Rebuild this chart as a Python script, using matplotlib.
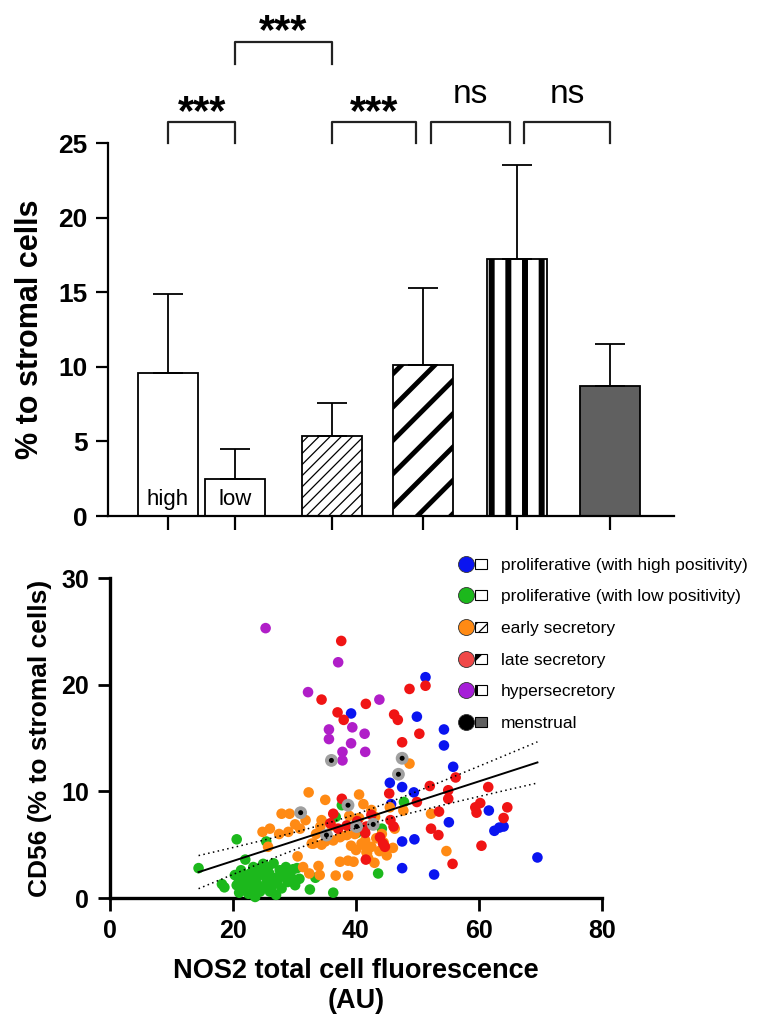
import numpy as np
import matplotlib
matplotlib.use("Agg")
import matplotlib.pyplot as plt
from matplotlib.lines import Line2D
from matplotlib.patches import Rectangle
from matplotlib.legend_handler import HandlerBase

plt.rcParams['font.family'] = ['Liberation Sans', 'DejaVu Sans']

# ---------------- bar panel data ----------------
groups = ['prolif. high', 'prolif. low', 'early secretory', 'late secretory',
          'hypersecretory', 'menstrual']
bar_pos = [0, 0.72, 1.75, 2.73, 3.73, 4.73]
bar_mean = [9.6, 2.45, 5.35, 10.1, 17.2, 8.7]
bar_top = [14.85, 4.5, 7.6, 15.25, 23.55, 11.55]   # mean + SD
bar_face = ['white', 'white', 'white', 'white', 'white', '#606060']
bar_hatch = [None, None, '///', '/', '|', None]
bar_hatch_lw = [1.0, 1.0, 0.9, 3.5, 4.3, 1.0]
inner_text = ['high', 'low', '', '', '', '']

# (left bar, right bar, left shift, right shift, level, label)
brackets = [(0, 1, 0.0, 0.0, 0, '***'),
            (1, 2, 0.0, 0.0, 1, '***'),
            (2, 3, 0.0, -0.08, 0, '***'),
            (3, 4, 0.08, -0.07, 0, 'ns'),
            (4, 5, 0.08, 0.0, 0, 'ns')]
br_top = [26.4, 31.8]
br_bottom = [25.0, 30.3]

# ---------------- scatter data (NOS2 vs CD56) ----------------
high_x = [51.3, 39.2, 49.9, 54.3, 54.3, 55.8, 45.5, 47.5, 49.4, 45.7, 55.1, 61.6,
          62.5, 63.3, 64.0, 49.5, 47.5, 47.5, 52.7, 69.5]
high_y = [20.7, 17.3, 17.0, 15.8, 14.3, 12.3, 10.8, 10.4, 9.9, 8.8, 7.1, 8.2,
          6.3, 6.6, 6.7, 5.5, 5.3, 2.8, 2.2, 3.8]

low_x = [14.4, 20.6, 25.4, 22.0, 18.2, 18.6, 37.7, 36.7, 40.1, 44.2, 43.6, 36.3,
         32.5, 33.4, 47.8, 30.4, 29.5, 30.1,
         20.3, 20.9, 22.0, 22.8, 23.9, 24.7, 25.7, 26.6, 27.6, 28.2, 21.7, 22.2,
         23.0, 23.3, 24.1, 24.4, 25.2, 25.5, 26.3, 26.8, 23.6, 20.6, 21.3, 24.0,
         27.2, 28.6, 25.9, 22.5, 26.0, 28.9, 21.0, 24.9, 27.9, 23.3, 29.8,
         30.8, 29.2, 21.8, 27.0]
low_y = [2.8, 5.5, 5.3, 3.6, 1.3, 1.0, 8.7, 7.6, 6.1, 6.5, 2.3, 0.5,
         0.8, 1.9, 9.0, 2.8, 1.9, 1.2,
         2.15, 1.85, 2.0, 2.3, 2.6, 2.3, 2.9, 3.25, 2.6, 2.0, 0.75, 1.4,
         1.5, 1.0, 1.2, 0.6, 1.05, 1.7, 1.05, 1.85, 0.1, 1.2, 2.6, 2.0,
         1.4, 2.9, 2.3, 0.4, 0.6, 1.5, 0.5, 3.2, 0.9, 2.9, 2.7,
         1.8, 2.4, 1.1, 0.3]

early_x = [32.3, 35.0, 40.5, 48.7, 41.2, 42.5, 27.9, 29.2, 26.0, 30.1, 30.9, 27.5,
           34.2, 33.1, 34.4, 36.3, 37.4, 38.5, 30.5, 31.4, 33.9, 32.4, 34.1, 36.7,
           38.7, 37.4, 38.7, 39.6, 46.3, 47.7, 52.2, 54.7, 25.7, 34.4, 43.1, 37.6,
           40.0, 41.0, 41.8, 42.5, 43.3, 43.8, 44.5, 45.0, 42.0, 43.0, 39.8, 41.5,
           44.2, 46.0, 40.5, 38.9, 36.0, 29.0, 31.8, 45.5, 33.5, 24.8, 39.2, 35.0,
           32.8, 40.9, 41.7]
early_y = [9.9, 9.2, 9.7, 12.6, 8.8, 8.25, 7.9, 7.9, 6.5, 6.9, 6.5, 6.0,
           6.7, 5.1, 5.0, 5.4, 5.7, 5.9, 3.9, 2.9, 3.0, 2.3, 2.15, 2.1,
           2.1, 3.4, 3.5, 3.4, 6.5, 8.2, 7.9, 4.4, 4.8, 7.3, 7.6, 5.8,
           4.5, 5.0, 4.2, 4.8, 5.6, 4.4, 5.2, 4.0, 3.7, 3.3, 6.0, 5.4,
           6.0, 4.7, 7.5, 7.7, 6.8, 6.2, 7.3, 8.5, 6.0, 6.2, 4.9, 5.3,
           5.1, 5.1, 4.3]

late_x = [37.6, 34.4, 41.6, 37.0, 38.0, 48.7, 51.3, 46.2, 46.8, 50.3, 47.5, 56.2,
          52.0, 55.0, 55.0, 61.5, 59.4, 59.6, 60.2, 64.6, 64.0, 53.5, 52.2, 53.4,
          60.4, 55.7, 45.4, 49.9, 46.1, 41.6, 37.7, 36.3, 35.8, 37.1, 38.5, 41.7,
          41.5, 43.9, 44.4, 42.5, 40.2, 45.6, 44.7]
late_y = [24.1, 18.6, 18.2, 17.4, 16.7, 19.6, 19.9, 17.2, 16.7, 15.4, 14.6, 11.3,
          10.5, 10.1, 9.3, 10.4, 8.5, 8.0, 8.9, 8.5, 7.5, 8.1, 6.5, 5.9,
          4.9, 3.2, 9.8, 9.0, 6.7, 3.6, 9.3, 7.9, 7.0, 6.5, 6.8, 6.7,
          6.1, 5.7, 5.1, 7.8, 7.2, 7.3, 4.8]

hyper_x = [25.3, 37.1, 32.2, 43.8, 35.6, 39.4, 41.4, 35.6, 39.2, 37.8, 41.5, 37.8]
hyper_y = [25.3, 22.1, 19.3, 18.6, 15.8, 16.0, 15.4, 14.9, 14.5, 13.7, 13.7, 12.9]

mens_x = [36.0, 47.5, 46.9, 31.0, 38.7, 35.2, 42.8, 40.1]
mens_y = [12.9, 13.1, 11.6, 8.0, 8.7, 5.9, 6.9, 6.7]

legend_labels = ['proliferative (with high positivity)',
                 'proliferative (with low positivity)',
                 'early secretory', 'late secretory', 'hypersecretory', 'menstrual']
dot_colors = ['#0a14f0', '#1cb81c', '#ff8a14', '#f01414', '#b01ec8', 'black']
legend_dot_colors = ['#0a14f0', '#1cb81c', '#ff8a14', '#f04848', '#a61ed8', 'black']


def set_hatch_lw(patch, lw):
    if hasattr(patch, 'set_hatch_linewidth'):
        patch.set_hatch_linewidth(lw)


class LegendKey(object):
    def __init__(self, dot, face, hatch, hatch_lw):
        self.dot = dot
        self.face = face
        self.hatch = hatch
        self.hatch_lw = hatch_lw


class DotBox(HandlerBase):
    # filled circle followed by a small copy of the bar fill
    def create_artists(self, legend, key, xdescent, ydescent, width, height,
                       fontsize, trans):
        cy = height / 2.0 - ydescent
        cx = -xdescent + 5.8
        with plt.rc_context({'hatch.linewidth': key.hatch_lw}):
            box = Rectangle((cx + 6.3, cy - 3.6), 9.0, 7.2, facecolor=key.face,
                            edgecolor='black', hatch=key.hatch, lw=0.8,
                            transform=trans)
        set_hatch_lw(box, key.hatch_lw)
        dot = Line2D([cx], [cy], marker='o', ms=11.5, color=key.dot,
                     mec='#333333', mew=0.6, ls='none', transform=trans)
        return [box, dot]


fig = plt.figure(figsize=(7.66, 10.30), dpi=100)
W, H = 766.0, 1030.0

# ================= top: bar chart =================
ax1 = fig.add_axes([108 / W, 1 - 516 / H, (674 - 108) / W, (516 - 143) / H])
for i in range(len(groups)):
    with plt.rc_context({'hatch.linewidth': bar_hatch_lw[i]}):
        b = ax1.bar(bar_pos[i], bar_mean[i], width=0.64, color=bar_face[i],
                    edgecolor='black', linewidth=1.3, hatch=bar_hatch[i], zorder=2)
    set_hatch_lw(b[0], bar_hatch_lw[i])
    if inner_text[i]:
        ax1.text(bar_pos[i], 0.75, inner_text[i], ha='center', va='baseline',
                 fontsize=16)

err_up = np.array(bar_top) - np.array(bar_mean)
ax1.errorbar(bar_pos, bar_mean, yerr=[np.zeros(len(bar_mean)), err_up], fmt='none',
             ecolor='black', elinewidth=1.3, capsize=10.5, capthick=1.3, zorder=3)

for i, j, di, dj, lev, lab in brackets:
    x0 = bar_pos[i] + di
    x1 = bar_pos[j] + dj
    ax1.plot([x0, x0, x1, x1], [br_bottom[lev], br_top[lev], br_top[lev], br_bottom[lev]],
             color='#222222', lw=1.6, clip_on=False)
    if lab == 'ns':
        ax1.text((x0 + x1) / 2, br_top[lev] + 1.25, lab, ha='center', va='baseline',
                 fontsize=24)
    else:
        ax1.text((x0 + x1) / 2, br_top[lev] - 0.1, lab, ha='center', va='baseline',
                 fontsize=30, fontweight='bold')

ax1.set_xlim(-0.642, 5.41)
ax1.set_ylim(0, 25)
ax1.set_yticks([0, 5, 10, 15, 20, 25])
ax1.set_xticks(bar_pos)
ax1.set_xticklabels([])
for s in ['top', 'right']:
    ax1.spines[s].set_visible(False)
for s in ['left', 'bottom']:
    ax1.spines[s].set_linewidth(1.6)
ax1.tick_params(axis='y', length=8.6, width=1.6, pad=6, labelsize=19)
ax1.tick_params(axis='x', length=10, width=1.6)
for t in ax1.get_yticklabels():
    t.set_fontweight('bold')
ax1.set_ylabel('% to stromal cells', fontsize=22, fontweight='bold', labelpad=10)

# ================= bottom: scatter =================
ax2 = fig.add_axes([110 / W, 1 - 898 / H, (602 - 110) / W, (898 - 578) / H])
series = [(high_x, high_y), (low_x, low_y), (early_x, early_y), (late_x, late_y),
          (hyper_x, hyper_y)]
for (sx, sy), c in zip(series, dot_colors[:5]):
    ax2.scatter(sx, sy, s=58, color=c, edgecolors='none', zorder=3, clip_on=False)
ax2.scatter(mens_x, mens_y, s=85, color='#a0a0a0', edgecolors='none', zorder=3)
ax2.scatter(mens_x, mens_y, s=13, color='black', edgecolors='none', zorder=4)

# linear regression with 95% confidence band over all samples
all_x = np.concatenate([high_x, low_x, early_x, late_x, hyper_x, mens_x])
all_y = np.concatenate([high_y, low_y, early_y, late_y, hyper_y, mens_y])
slope, icpt = np.polyfit(all_x, all_y, 1)
n = len(all_x)
resid = all_y - (slope * all_x + icpt)
s_err = np.sqrt(np.sum(resid ** 2) / (n - 2))
xm = all_x.mean()
sxx = np.sum((all_x - xm) ** 2)
xf = np.linspace(all_x.min(), all_x.max(), 100)
yf = slope * xf + icpt
half = 1.97 * s_err * np.sqrt(1.0 / n + (xf - xm) ** 2 / sxx)
ax2.plot(xf, yf, color='black', lw=1.4, zorder=5)
ax2.plot(xf, yf + half, color='black', lw=1.1, ls=(0, (1, 2.2)), zorder=5)
ax2.plot(xf, yf - half, color='black', lw=1.1, ls=(0, (1, 2.2)), zorder=5)

ax2.set_xlim(0, 80)
ax2.set_ylim(0, 30)
ax2.set_xticks([0, 20, 40, 60, 80])
ax2.set_yticks([0, 10, 20, 30])
for s in ['top', 'right']:
    ax2.spines[s].set_visible(False)
for s in ['left', 'bottom']:
    ax2.spines[s].set_linewidth(2.4)
ax2.tick_params(length=9, width=2.0, pad=6, labelsize=18)
for t in ax2.get_xticklabels() + ax2.get_yticklabels():
    t.set_fontweight('bold')
ax2.set_xlabel('NOS2 total cell fluorescence\n(AU)', fontsize=19.5, fontweight='bold',
               labelpad=11, linespacing=1.2)
ax2.set_ylabel('CD56 (% to stromal cells)', fontsize=19, fontweight='bold', labelpad=7)

keys = [LegendKey(legend_dot_colors[k], bar_face[k], bar_hatch[k], bar_hatch_lw[k])
        for k in range(len(groups))]
fig.legend(keys, legend_labels, handler_map={LegendKey: DotBox()},
           loc='upper left', bbox_to_anchor=(458 / W, 1 - 556 / H), frameon=False,
           fontsize=12.5, handlelength=1.7, handleheight=1.0, handletextpad=0.75,
           labelspacing=0.86, borderpad=0, borderaxespad=0)

fig.savefig('out.png', dpi=100)
